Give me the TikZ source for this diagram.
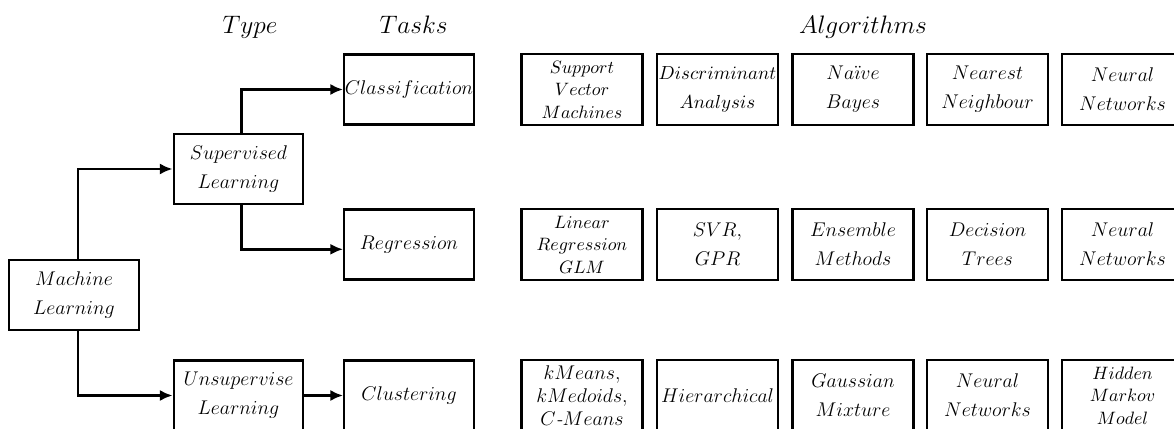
\RequirePackage{fix-cm}
\documentclass[tikz,border=0pt]{standalone}
\usetikzlibrary{arrows.meta}
\begin{document}
\begin{tikzpicture}[x=0.625pt,y=-0.625pt,
  box/.style={draw, line width=1.4pt, inner sep=0pt, align=center,
    font=\fontsize{12.4}{18}\selectfont},
  mainbox/.style={box, minimum width=81pt, minimum height=43.8pt},
  algbox/.style={box, minimum width=75.6pt, minimum height=44.4pt},
  tight/.style={font=\fontsize{12.4}{14.6}\selectfont},
  narrow/.style={font=\fontsize{11.8}{18}\selectfont},
  smalltext/.style={font=\fontsize{11.2}{14}\selectfont},
  hdr/.style={anchor=base, inner sep=0pt, font=\fontsize{15.8}{18}\selectfont},
  conn/.style={line width=1.8pt, -{Latex[length=8pt,width=7pt]}}]
\useasboundingbox (0,0) rectangle (1174,429);
\clip (0,0) rectangle (1174,429);

% column headings
\node[hdr] (htype)  at (250,34)   {$Type$};
\node[hdr] (htask)  at (413.5,34) {$Tasks$};
\node[hdr] (halgo)  at (863,34)   {$Algorithms$};

% root, learning types and tasks
\node[mainbox] (ml)  at (74,295)    {$Machine$\\$Learning$};
\node[mainbox] (sl)  at (238.5,169) {$Supervised$\\$Learning$};
\node[mainbox] (ul)  at (238.5,395.5) {$Unsupervise$\\$Learning$};
\node[mainbox] (cls) at (409,89.5)  {$Classification$};
\node[mainbox] (reg) at (409,244.5) {$Regression$};
\node[mainbox] (clu) at (409,395.5) {$Clustering$};

% classification algorithms
\node[algbox,smalltext] (a11) at (582,89.5)    {$Support$\\$Vector$\\$Machines$};
\node[algbox,narrow] (a12) at (717.5,89.5)  {$Discriminant$\\$Analysis$};
\node[algbox] (a13) at (853,89.5)    {$Na\ddot{\imath}ve$\\$Bayes$};
\node[algbox] (a14) at (987.5,89.5)  {$Nearest$\\$Neighbour$};
\node[algbox] (a15) at (1122.5,89.5) {$Neural$\\$Networks$};

% regression algorithms
\node[algbox,smalltext] (a21) at (582,244.5)    {$Linear$\\$Regression$\\$GLM$};
\node[algbox] (a22) at (717.5,244.5)  {$SVR,$\\$GPR$};
\node[algbox] (a23) at (853,244.5)    {$Ensemble$\\$Methods$};
\node[algbox] (a24) at (987.5,244.5)  {$Decision$\\$Trees$};
\node[algbox] (a25) at (1122.5,244.5) {$Neural$\\$Networks$};

% clustering algorithms
\node[algbox,tight] (a31) at (582,395.5)    {$kMeans,$\\$kMedoids,$\\$C$\textit{-}$Means$};
\node[algbox] (a32) at (717.5,395.5)  {$Hierarchical$};
\node[algbox] (a33) at (853,395.5)    {$Gaussian$\\$Mixture$};
\node[algbox] (a34) at (987.5,395.5)  {$Neural$\\$Networks$};
\node[algbox,smalltext] (a35) at (1122.5,395.5) {$Hidden$\\$Markov$\\$Model$};

% connectors
\draw[conn] ([xshift=2.5pt]ml.north) |- (sl.west);
\draw[conn] ([xshift=2.5pt]ml.south) |- (ul.west);
\draw[conn] ([xshift=2pt]sl.north) |- (cls.west);
\draw[conn] ([xshift=2pt]sl.south) |- ([yshift=-3pt]reg.west);
\draw[conn] (ul.east) -- (clu.west);
\end{tikzpicture}
\end{document}
